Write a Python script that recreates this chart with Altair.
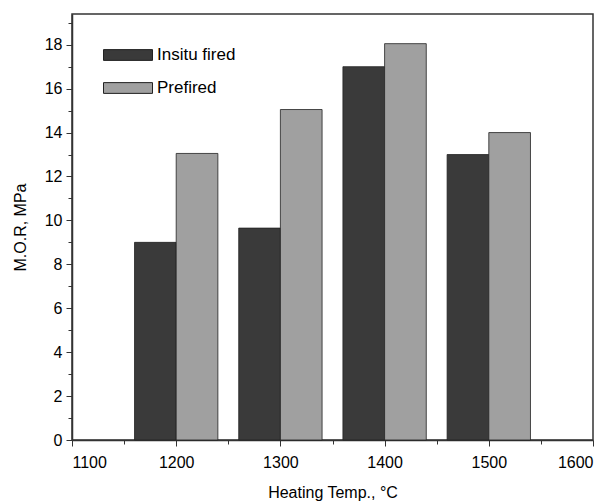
import altair as alt
import pandas as pd

temps = [1200, 1300, 1400, 1500]
insitu = [9.0, 9.65, 17.0, 13.0]
prefired = [13.05, 15.05, 18.05, 14.0]
series_names = ["Insitu fired", "Prefired"]
series_colors = ["#3a3a3a", "#a0a0a0"]
x_ticks = list(range(1100, 1601, 50))
y_ticks = list(range(0, 20))

rows = []
for t, a, b in zip(temps, insitu, prefired):
    rows.append({"temp": t, "series": series_names[0], "value": a})
    rows.append({"temp": t, "series": series_names[1], "value": b})
df = pd.DataFrame(rows)

FONT = "Liberation Sans"

chart = (
    alt.Chart(df)
    .transform_calculate(
        x0="datum.series == 'Insitu fired' ? datum.temp - 40 : datum.temp",
    )
    .transform_calculate(x1="datum.x0 + 40")
    .mark_rect(stroke="#222222", strokeWidth=0.8, opacity=1)
    .encode(
        x=alt.X(
            "x0:Q",
            scale=alt.Scale(domain=[1100, 1600], nice=False, zero=False),
            axis=alt.Axis(
                title="Heating Temp., °C",
                values=x_ticks,
                format="d",
                labelExpr="datum.value % 100 == 0 ? datum.label : ''",
                tickSize={"condition": {"test": "datum.value % 100 == 0", "value": 6}, "value": 4},
                grid=False,
                labelPadding=8,
                titlePadding=14,
            ),
        ),
        x2="x1:Q",
        y=alt.Y(
            "value:Q",
            scale=alt.Scale(domain=[0, 19.4], nice=False),
            axis=alt.Axis(
                title="M.O.R, MPa",
                values=y_ticks,
                labelExpr="datum.value % 2 == 0 ? datum.label : ''",
                tickSize={"condition": {"test": "datum.value % 2 == 0", "value": 6}, "value": 4},
                grid=False,
                labelPadding=4,
                titlePadding=16,
            ),
        ),
        y2=alt.Y2(datum=0),
        color=alt.Color(
            "series:N",
            scale=alt.Scale(domain=series_names, range=series_colors),
            legend=alt.Legend(
                title=None,
                orient="none",
                legendX=31,
                legendY=16,
                symbolType="M-1,-0.22H1V0.22H-1Z",
                symbolSize=2401,
                symbolStrokeColor="#222222",
                symbolStrokeWidth=1,
                symbolOpacity=1,
                labelFontSize=17,
                labelFont=FONT,
                labelColor="black",
                rowPadding=-29,
                labelOffset=4,
            ),
        ),
    )
    .properties(
        width=521,
        height=426,
        autosize=alt.AutoSizeParams(type="none"),
        padding={"left": 72, "top": 14, "right": 21, "bottom": 64},
    )
    .configure_view(stroke="#333333", strokeWidth=1.5)
    .configure_axis(
        domainColor="#333333",
        domainWidth=1.5,
        tickColor="#333333",
        labelFont=FONT,
        titleFont=FONT,
        labelFontSize=16,
        titleFontSize=16,
        titleFontWeight="normal",
        labelColor="black",
        titleColor="black",
    )
)

chart.save("out.html", embed_options={"renderer": "svg", "actions": False})
